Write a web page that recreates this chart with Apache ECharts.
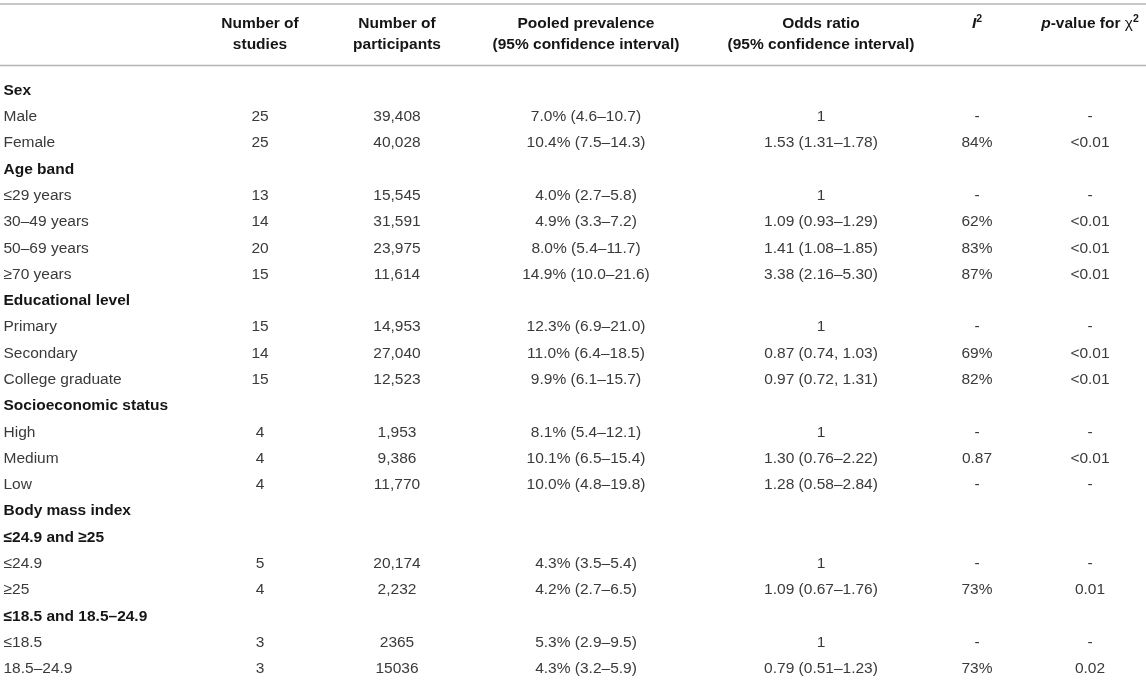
<!DOCTYPE html>
<html>
<head>
<meta charset="utf-8">
<script src="https://cdn.jsdelivr.net/npm/echarts@6/dist/echarts.min.js"></script>
<style>
  html, body { margin: 0; background: #fff; }
  #main { width: 1146px; height: 682px; }
</style>
</head>
<body>
<div id="main"></div>
<script>
// table content
const rowLabels = ['Sex', 'Male', 'Female', 'Age band', '≤29 years', '30–49 years', '50–69 years', '≥70 years',
  'Educational level', 'Primary', 'Secondary', 'College graduate', 'Socioeconomic status', 'High', 'Medium', 'Low',
  'Body mass index', '≤24.9 and ≥25', '≤24.9', '≥25', '≤18.5 and 18.5–24.9', '≤18.5', '18.5–24.9'];
const groupRows = ['Sex', 'Age band', 'Educational level', 'Socioeconomic status', 'Body mass index',
  '≤24.9 and ≥25', '≤18.5 and 18.5–24.9'];

const studies = ['', '25', '25', '', '13', '14', '20', '15', '', '15', '14', '15', '', '4', '4', '4', '', '', '5', '4', '', '3', '3'];
const participants = ['', '39,408', '40,028', '', '15,545', '31,591', '23,975', '11,614', '', '14,953', '27,040', '12,523',
  '', '1,953', '9,386', '11,770', '', '', '20,174', '2,232', '', '2365', '15036'];
const prevalence = ['', '7.0% (4.6–10.7)', '10.4% (7.5–14.3)', '', '4.0% (2.7–5.8)', '4.9% (3.3–7.2)', '8.0% (5.4–11.7)',
  '14.9% (10.0–21.6)', '', '12.3% (6.9–21.0)', '11.0% (6.4–18.5)', '9.9% (6.1–15.7)', '', '8.1% (5.4–12.1)',
  '10.1% (6.5–15.4)', '10.0% (4.8–19.8)', '', '', '4.3% (3.5–5.4)', '4.2% (2.7–6.5)', '', '5.3% (2.9–9.5)', '4.3% (3.2–5.9)'];
const oddsRatio = ['', '1', '1.53 (1.31–1.78)', '', '1', '1.09 (0.93–1.29)', '1.41 (1.08–1.85)', '3.38 (2.16–5.30)', '',
  '1', '0.87 (0.74, 1.03)', '0.97 (0.72, 1.31)', '', '1', '1.30 (0.76–2.22)', '1.28 (0.58–2.84)', '', '',
  '1', '1.09 (0.67–1.76)', '', '1', '0.79 (0.51–1.23)'];
const iSquared = ['', '-', '84%', '', '-', '62%', '83%', '87%', '', '-', '69%', '82%', '', '-', '0.87', '-', '', '',
  '-', '73%', '', '-', '73%'];
const pValues = ['', '-', '<0.01', '', '-', '<0.01', '<0.01', '<0.01', '', '-', '<0.01', '<0.01', '', '-', '<0.01', '-',
  '', '', '-', '0.01', '', '-', '0.02'];

const headerTop = ['', 'Number of', 'Number of', 'Pooled prevalence', 'Odds ratio', '{bi|I}{sup|2}', '{bi|p}{b|-value for }{chi|χ}{sup|2}'];
const headerBottom = ['', 'studies', 'participants', '(95% confidence interval)', '(95% confidence interval)', '', ''];

// layout (x position of each column on the hidden x axis)
const colX = [3.5, 260, 397, 586, 821, 977, 1090];
const FONT = '"Liberation Sans", Arial, Helvetica, sans-serif';

const columns = [rowLabels, studies, participants, prevalence, oddsRatio, iSquared, pValues];
const cells = [];
columns.forEach((col, c) => {
  col.forEach((txt, r) => {
    if (txt !== '') cells.push([colX[c], r, txt, c]);
  });
});

const chart = echarts.init(document.getElementById('main'));
chart.setOption({
  animation: false,
  grid: { left: 0, right: 0, top: 77.5, height: 607 },
  xAxis: { type: 'value', min: 0, max: 1146, show: false },
  yAxis: { type: 'category', data: rowLabels, inverse: true, show: false },
  series: [{
    type: 'custom',
    clip: false,
    data: cells,
    renderItem: function (params, api) {
      const d = cells[params.dataIndex];
      const p = api.coord([d[0], d[1]]);
      const isGroup = d[3] === 0 && groupRows.indexOf(d[2]) >= 0;
      return {
        type: 'text',
        x: p[0],
        y: p[1],
        style: {
          text: d[2],
          fill: isGroup ? '#151515' : '#3a3a3a',
          font: (isGroup ? 'bold ' : '') + '15.5px ' + FONT,
          align: d[3] === 0 ? 'left' : 'center',
          verticalAlign: 'middle'
        }
      };
    }
  }]
});

// header rules and header text
const px = (x) => chart.convertToPixel({ gridIndex: 0 }, [x, 0])[0];
const graphics = [
  { type: 'line', shape: { x1: 0, y1: 4, x2: 1146, y2: 4 }, style: { stroke: '#b5b5b5', lineWidth: 1.5 } },
  { type: 'line', shape: { x1: 0, y1: 65.5, x2: 1146, y2: 65.5 }, style: { stroke: '#b5b5b5', lineWidth: 1.5 } }
];
const rich = {
  b: { font: 'bold 15.5px ' + FONT, fill: '#151515' },
  bi: { font: 'italic bold 15.5px ' + FONT, fill: '#151515' },
  chi: { font: '15.5px ' + FONT, fill: '#151515' },
  sup: { font: 'bold 10.5px ' + FONT, fill: '#151515', padding: [0, 0, 9, 0] }
};
headerTop.forEach((t, i) => {
  if (!t) return;
  graphics.push({
    type: 'text', x: px(colX[i]), y: 23.5,
    style: { text: t, rich: rich, font: 'bold 15.5px ' + FONT, fill: '#151515', align: 'center', verticalAlign: 'middle' }
  });
});
headerBottom.forEach((t, i) => {
  if (!t) return;
  graphics.push({
    type: 'text', x: px(colX[i]), y: 44.5,
    style: { text: t, font: 'bold 15.5px ' + FONT, fill: '#151515', align: 'center', verticalAlign: 'middle' }
  });
});
chart.setOption({ graphic: graphics });
</script>
</body>
</html>
